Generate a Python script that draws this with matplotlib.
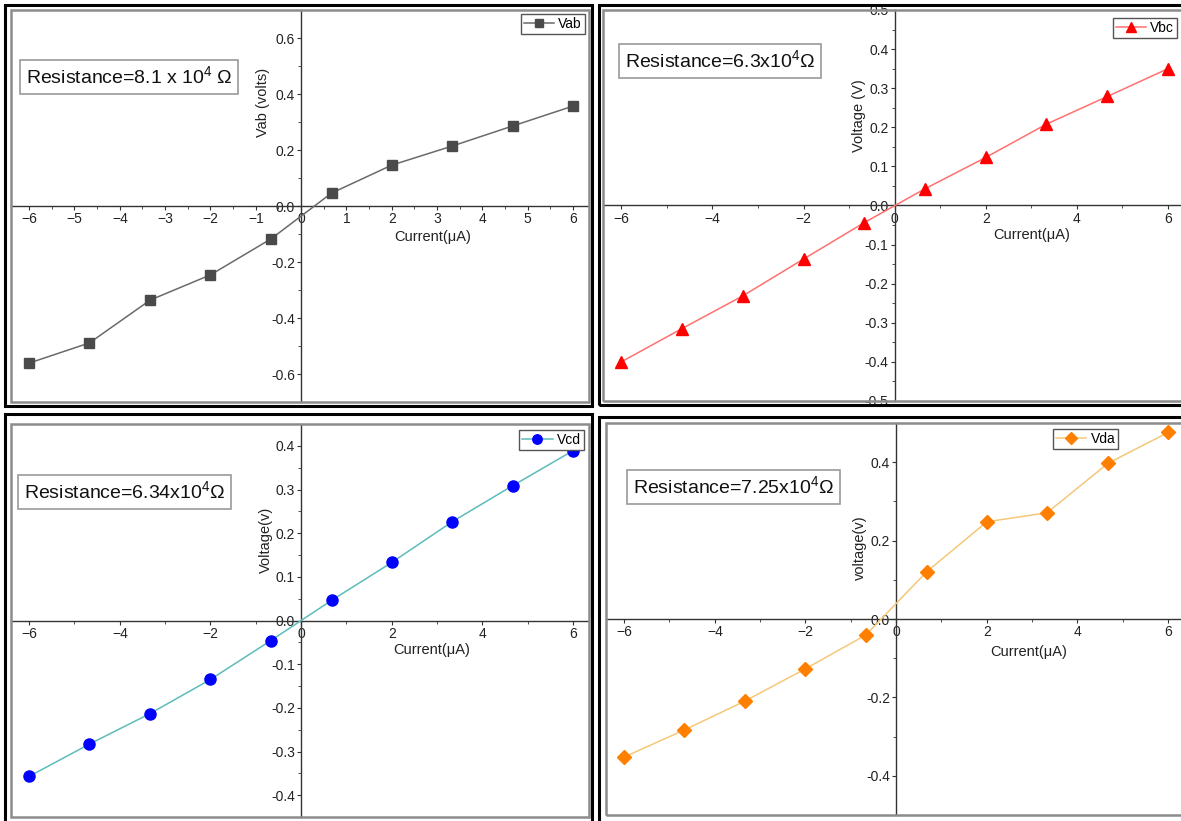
import numpy as np
import matplotlib
matplotlib.use("Agg")
import matplotlib.pyplot as plt
from matplotlib.patches import Rectangle
from matplotlib.ticker import MultipleLocator

plt.rcParams['font.family'] = ['Liberation Sans', 'DejaVu Sans']
plt.rcParams['mathtext.fontset'] = 'custom'
plt.rcParams['mathtext.rm'] = 'Liberation Sans'

# current in micro amps (same for all four runs)
current = [-6, -4.67, -3.33, -2, -0.67, 0.67, 2, 3.33, 4.67, 6]

vab = [-0.561, -0.489, -0.336, -0.246, -0.118, 0.046, 0.146, 0.214, 0.286, 0.357]
vbc = [-0.400, -0.315, -0.231, -0.137, -0.044, 0.043, 0.123, 0.208, 0.279, 0.350]
vcd = [-0.357, -0.283, -0.213, -0.135, -0.046, 0.046, 0.133, 0.226, 0.309, 0.389]
vda = [-0.352, -0.283, -0.209, -0.127, -0.041, 0.120, 0.248, 0.271, 0.397, 0.476]

names = ['Vab', 'Vbc', 'Vcd', 'Vda']
ylabels = ['Vab (volts)', 'Voltage (V)', 'Voltage(v)', 'voltage(v)']
notes = [r'Resistance=8.1 x 10$^{\mathregular{4}}$ Ω',
         r'Resistance=6.3x10$^{\mathregular{4}}$Ω',
         r'Resistance=6.34x10$^{\mathregular{4}}$Ω',
         r'Resistance=7.25x10$^{\mathregular{4}}$Ω']

W, H = 1181, 821
fig = plt.figure(figsize=(W / 100, H / 100), dpi=100)

def frac(x0, y0, x1, y1):
    # pixel box (top-left origin) -> figure fraction rect
    return [x0 / W, 1 - y1 / H, (x1 - x0) / W, (y1 - y0) / H]

# panel settings: axes box, black frame, limits, ticks, styles, label spots
panels = [
    dict(box=(11, 10, 589, 402), frame=(5, 5, 592, 406), ylim=0.7, xmaj=1, ymaj=0.2,
         mk='s', mc='#4a4a4a', lc='#6a6a6a', ms=7.5,
         ylab=(0.448, 0.765), xlab=(0.730, 0.439), note=(0.204, 0.829), leg=(1.0, 1.0)),
    dict(box=(603, 10, 1184, 401), frame=(599, 5, 1188, 405), ylim=0.5, xmaj=2, ymaj=0.1,
         mk='^', mc='#ff0000', lc='#ff7070', ms=8.5,
         ylab=(0.452, 0.731), xlab=(0.737, 0.442), note=(0.201, 0.870), leg=(0.995, 0.99)),
    dict(box=(11, 424, 589, 817), frame=(5, 414, 592, 825), ylim=0.45, xmaj=2, ymaj=0.1,
         mk='o', mc='#0000ff', lc='#5cbcbc', ms=8,
         ylab=(0.454, 0.705), xlab=(0.728, 0.443), note=(0.197, 0.827), leg=(0.998, 0.995)),
    dict(box=(606, 423, 1184, 815), frame=(599, 417, 1188, 825), ylim=0.5, xmaj=2, ymaj=0.2,
         mk='D', mc='#ff8000', lc='#f5c878', ms=7,
         ylab=(0.451, 0.681), xlab=(0.732, 0.434), note=(0.221, 0.837), leg=(0.893, 0.995)),
]
series = [vab, vbc, vcd, vda]

for i, p in enumerate(panels):
    ax = fig.add_axes(frac(*p['box']))
    ax.plot(current, series[i], color=p['lc'], lw=1.1, marker=p['mk'], ms=p['ms'],
            mfc=p['mc'], mec=p['mc'], label=names[i], zorder=3)
    ax.set_xlim(-6.4, 6.35)
    ax.set_ylim(-p['ylim'], p['ylim'])

    # origin style centred axes
    for s in ['left', 'bottom']:
        ax.spines[s].set_position('zero')
        ax.spines[s].set_color('#333333')
        ax.spines[s].set_linewidth(1.0)
    for s in ['right', 'top']:
        ax.spines[s].set_visible(False)
    ax.add_patch(Rectangle((0, 0), 1, 1, transform=ax.transAxes, fill=False,
                           ec='#8c8c8c', lw=1.8, clip_on=False, zorder=5))

    ax.xaxis.set_major_locator(MultipleLocator(p['xmaj']))
    ax.xaxis.set_minor_locator(MultipleLocator(p['xmaj'] / 2))
    ax.yaxis.set_major_locator(MultipleLocator(p['ymaj']))
    ax.yaxis.set_minor_locator(MultipleLocator(p['ymaj'] / 2))
    ax.yaxis.set_major_formatter(plt.FormatStrFormatter('%.1f'))
    ax.tick_params(which='major', direction='out', length=3, width=0.8,
                   color='#333333', labelsize=10, labelcolor='#222222', pad=1.5)
    ax.tick_params(which='minor', direction='out', length=2, width=0.6, color='#333333')

    ax.set_ylabel(ylabels[i], fontsize=10.5, color='#222222')
    ax.yaxis.set_label_coords(*p['ylab'])
    ax.set_xlabel('Current(μA)', fontsize=10.5, color='#222222')
    ax.xaxis.set_label_coords(*p['xlab'])

    ax.text(p['note'][0], p['note'][1], notes[i], transform=ax.transAxes,
            ha='center', va='center', fontsize=14, color='#111111',
            bbox=dict(boxstyle='square,pad=0.3', fc='white', ec='#9a9a9a', lw=1.2))

    leg = ax.legend(loc='upper right', bbox_to_anchor=p['leg'], fontsize=10,
                    fancybox=False, framealpha=1, edgecolor='#555555',
                    borderpad=0.2, handlelength=2.2, handletextpad=0.3,
                    borderaxespad=0.3, markerscale=0.85)
    leg.get_frame().set_linewidth(1.0)

    # thick black frame round each panel
    fig.patches.append(Rectangle(frac(*p['frame'])[:2], *frac(*p['frame'])[2:],
                                 transform=fig.transFigure, fill=False,
                                 ec='black', lw=2.2))

fig.savefig('out.png', dpi=100)
